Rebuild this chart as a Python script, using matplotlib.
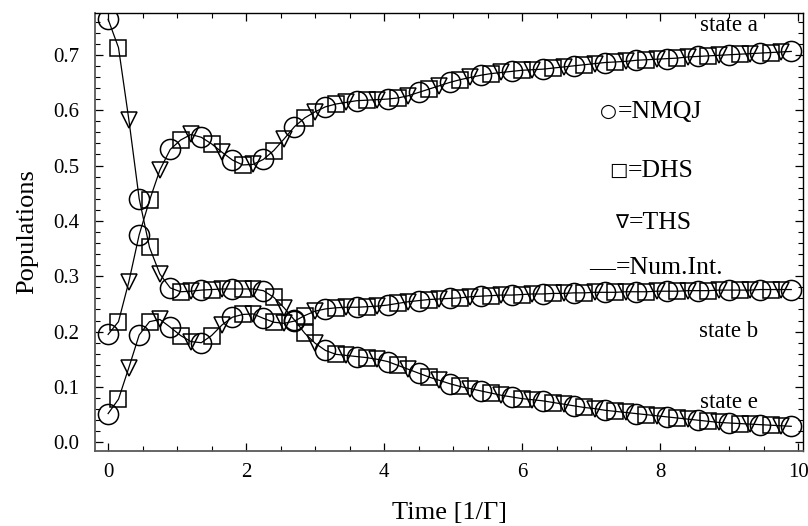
import numpy as np
import matplotlib
matplotlib.use('Agg')
import matplotlib.pyplot as plt
from matplotlib.ticker import MultipleLocator, FormatStrFormatter

plt.rcParams['font.family'] = ['Liberation Serif', 'DejaVu Serif']
plt.rcParams['mathtext.fontset'] = 'stix'

# time grid of the samples (step 0.15, markers alternate between methods)
dt = 0.15
t = dt * np.arange(67)

state_a = [0.195, 0.218, 0.290, 0.375, 0.437, 0.492, 0.529, 0.546, 0.556, 0.551,
           0.539, 0.524, 0.510, 0.501, 0.502, 0.511, 0.527, 0.548, 0.570, 0.586,
           0.597, 0.606, 0.611, 0.614, 0.617, 0.618, 0.619, 0.620, 0.622, 0.626,
           0.632, 0.638, 0.644, 0.650, 0.655, 0.659, 0.663, 0.666, 0.668, 0.670,
           0.672, 0.673, 0.674, 0.676, 0.678, 0.680, 0.682, 0.684, 0.686, 0.687,
           0.688, 0.690, 0.691, 0.692, 0.693, 0.694, 0.696, 0.697, 0.698, 0.699,
           0.700, 0.701, 0.702, 0.703, 0.704, 0.705, 0.706]

state_b = [0.052, 0.078, 0.135, 0.194, 0.218, 0.222, 0.208, 0.193, 0.182, 0.180,
           0.193, 0.212, 0.226, 0.231, 0.232, 0.224, 0.217, 0.215, 0.219, 0.229,
           0.237, 0.241, 0.243, 0.244, 0.244, 0.245, 0.246, 0.248, 0.251, 0.254,
           0.256, 0.258, 0.259, 0.260, 0.261, 0.263, 0.264, 0.265, 0.266, 0.266,
           0.267, 0.268, 0.268, 0.269, 0.269, 0.270, 0.270, 0.271, 0.271, 0.271,
           0.272, 0.272, 0.272, 0.273, 0.273, 0.273, 0.274, 0.274, 0.274, 0.275,
           0.275, 0.275, 0.275, 0.276, 0.276, 0.276, 0.276]

state_e = [0.764, 0.713, 0.583, 0.440, 0.352, 0.304, 0.279, 0.272, 0.273, 0.275,
           0.276, 0.277, 0.277, 0.277, 0.277, 0.274, 0.262, 0.243, 0.221, 0.197,
           0.179, 0.166, 0.159, 0.157, 0.155, 0.153, 0.150, 0.146, 0.139, 0.132,
           0.125, 0.118, 0.112, 0.106, 0.101, 0.097, 0.093, 0.089, 0.085, 0.082,
           0.079, 0.077, 0.075, 0.072, 0.069, 0.066, 0.063, 0.061, 0.058, 0.056,
           0.054, 0.052, 0.050, 0.048, 0.046, 0.044, 0.042, 0.040, 0.038, 0.036,
           0.035, 0.034, 0.033, 0.032, 0.031, 0.030, 0.029]

states = [state_a, state_b, state_e]

legend_syms = ['\u25cb', '\u25a1', '\u2207']
legend_names = ['=NMQJ', '=DHS', '=THS']

fig = plt.figure(figsize=(8.08, 5.26), dpi=100)
ax = fig.add_axes([0.1176, 0.1432, 0.8762, 0.8327])

for s in states:
    s = np.array(s)
    ax.plot(t, s, color='black', lw=0.9, zorder=1)
    # NMQJ circles, DHS squares, THS triangles
    ax.plot(t[0::3], s[0::3], 'o', ms=14.5, mfc='none', mec='black', mew=1.1, zorder=2)
    ax.plot(t[1::3], s[1::3], 's', ms=11.5, mfc='none', mec='black', mew=1.1, zorder=2)
    ax.plot(t[2::3], s[2::3], 'v', ms=12, mfc='none', mec='black', mew=1.1, zorder=2)

ax.set_xlim(-0.19, 10.07)
ax.set_ylim(-0.015, 0.776)

ax.xaxis.set_major_locator(MultipleLocator(2))
ax.xaxis.set_minor_locator(MultipleLocator(0.5))
ax.yaxis.set_major_locator(MultipleLocator(0.1))
ax.yaxis.set_minor_locator(MultipleLocator(0.02))
ax.yaxis.set_major_formatter(FormatStrFormatter('%.1f'))

ax.tick_params(which='both', direction='in', top=True, right=True, labelsize=15)
ax.tick_params(which='major', length=6, width=0.9)
ax.tick_params(which='minor', length=3.5, width=0.8)
ax.tick_params(axis='x', pad=9)
ax.tick_params(axis='y', pad=11)

for side in ['left', 'bottom']:
    ax.spines[side].set_color('0.35')
    ax.spines[side].set_linewidth(1.3)
for side in ['top', 'right']:
    ax.spines[side].set_linewidth(1.0)

ax.set_xlabel('Time [1/\u0393]', fontsize=19, labelpad=14)
ax.set_ylabel('Populations', fontsize=19, labelpad=11)

# text legend: symbol + name
sym_x = [7.38, 7.53, 7.54]
sym_y = [0.602, 0.495, 0.401]
for sx, sy, sym, name in zip(sym_x, sym_y, legend_syms, legend_names):
    ax.text(sx, sy, sym, fontsize=14, family='DejaVu Sans',
            ha='right', va='center_baseline')
    ax.text(sx, sy, name, fontsize=18.5, ha='left', va='center_baseline')
ax.text(7.35, 0.32, '\u2014', fontsize=18.5, ha='right', va='center_baseline')
ax.text(7.35, 0.32, '=Num.Int.', fontsize=18.5, ha='left', va='center_baseline')

ax.text(8.99, 0.753, 'state a', fontsize=16.5, ha='center', va='center')
ax.text(8.99, 0.200, 'state b', fontsize=16.5, ha='center', va='center')
ax.text(8.99, 0.0715, 'state e', fontsize=16.5, ha='center', va='center')

fig.savefig('out.png', dpi=100)
